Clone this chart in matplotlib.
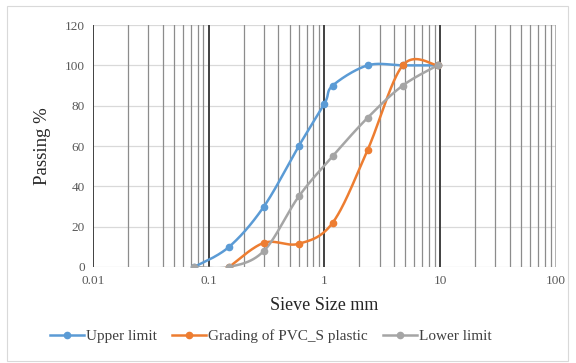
import numpy as np
import matplotlib
matplotlib.use("Agg")
import matplotlib.pyplot as plt
from matplotlib.ticker import FixedLocator, FixedFormatter, LogLocator, NullFormatter
from matplotlib.patches import Rectangle

# Sieve sizes (mm) and percent passing for each curve
upper_sizes = [0.075, 0.15, 0.3, 0.6, 1.0, 1.18, 2.36, 4.75, 9.5]
upper_pass = [0, 10, 30, 60, 81, 90, 100, 100, 100]

pvc_sizes = [0.15, 0.3, 0.6, 1.18, 2.36, 4.75, 9.5]
pvc_pass = [0, 12, 11.5, 22, 58, 100, 100]

lower_sizes = [0.075, 0.15, 0.3, 0.6, 1.18, 2.36, 4.75, 9.5]
lower_pass = [0, 0, 8, 35, 55, 74, 90, 100]

x_ticks = [0.01, 0.1, 1, 10, 100]
x_tick_labels = ["0.01", "0.1", "1", "10", "100"]
y_ticks = [0, 20, 40, 60, 80, 100, 120]

series_names = ["Upper limit", "Grading of PVC_S plastic", "Lower limit"]
series_colors = ["#5B9BD5", "#ED7D31", "#A5A5A5"]

plt.rcParams["font.family"] = ["Liberation Serif", "DejaVu Serif"]


def smooth_curve(xs, ys, n=40):
    """Bezier smoothing through the points, done in log10(x) / linear y space."""
    px = np.log10(np.asarray(xs, float))
    py = np.asarray(ys, float)
    m = len(px)
    out_x, out_y = [], []
    t = np.linspace(0, 1, n)
    for i in range(m - 1):
        p0 = np.array([px[i], py[i]])
        p3 = np.array([px[i + 1], py[i + 1]])
        prev = np.array([px[i - 1], py[i - 1]]) if i > 0 else p0
        nxt = np.array([px[i + 2], py[i + 2]]) if i + 2 < m else p3
        c1 = p0 + (p3 - prev) / 6.0
        c2 = p3 - (nxt - p0) / 6.0
        b = ((1 - t) ** 3)[:, None] * p0 + (3 * (1 - t) ** 2 * t)[:, None] * c1 \
            + (3 * (1 - t) * t ** 2)[:, None] * c2 + (t ** 3)[:, None] * p3
        if i > 0:
            b = b[1:]
        out_x.append(b[:, 0])
        out_y.append(b[:, 1])
    return 10 ** np.concatenate(out_x), np.concatenate(out_y)


fig = plt.figure(figsize=(5.76, 3.63), dpi=100)
fig.patch.set_facecolor("white")
fig.patches.append(Rectangle((0.012, 0.006), 0.974, 0.978, transform=fig.transFigure,
                             fill=False, edgecolor="#d9d9d9", linewidth=0.8))

ax = fig.add_axes([0.1615, 0.2645, 0.8035, 0.6665])
ax.set_xscale("log")
ax.set_xlim(0.01, 100)
ax.set_ylim(0, 120)

# grid: light horizontal lines, dark decade lines, grey minor lines
for y in y_ticks:
    ax.axhline(y, color="#d9d9d9", linewidth=0.9, zorder=0)
minor_x = [k * 10.0 ** e for e in range(-2, 2) for k in range(2, 10)]
for x in minor_x:
    ax.axvline(x, color="#8c8c8c", linewidth=0.9, zorder=0)
for x in x_ticks[:-1]:
    ax.axvline(x, color="#404040", linewidth=1.4, zorder=0)
ax.axvline(100, color="#a6a6a6", linewidth=1.2, zorder=0)

for spine in ax.spines.values():
    spine.set_visible(False)

ax.xaxis.set_major_locator(FixedLocator(x_ticks))
ax.xaxis.set_major_formatter(FixedFormatter(x_tick_labels))
ax.xaxis.set_minor_locator(LogLocator(base=10, subs=np.arange(2, 10)))
ax.xaxis.set_minor_formatter(NullFormatter())
ax.set_yticks(y_ticks)
ax.tick_params(axis="both", which="both", length=0, labelsize=9.5, colors="#595959", pad=6)

all_series = [(upper_sizes, upper_pass), (pvc_sizes, pvc_pass), (lower_sizes, lower_pass)]
handles = []
for (xs, ys), name, col in zip(all_series, series_names, series_colors):
    sx, sy = smooth_curve(xs, ys)
    ax.plot(sx, sy, color=col, linewidth=1.8, zorder=3)
    ax.plot(xs, ys, linestyle="none", marker="o", markersize=4.5, color=col, zorder=4)
    h, = ax.plot([], [], color=col, linewidth=1.8, marker="o", markersize=4.5, label=name)
    handles.append(h)

ax.set_xlabel("Sieve Size mm", fontsize=13, color="#262626", labelpad=7)
ax.set_ylabel("Passing %", fontsize=13.5, color="#262626", labelpad=10)

fig.legend(handles=handles, loc="center", bbox_to_anchor=(0.47, 0.073), ncol=3,
           frameon=False, fontsize=11, handlelength=2.2, handletextpad=0.15,
           columnspacing=1.0, labelcolor="#404040")

fig.savefig("out.png", dpi=100, facecolor="white")
